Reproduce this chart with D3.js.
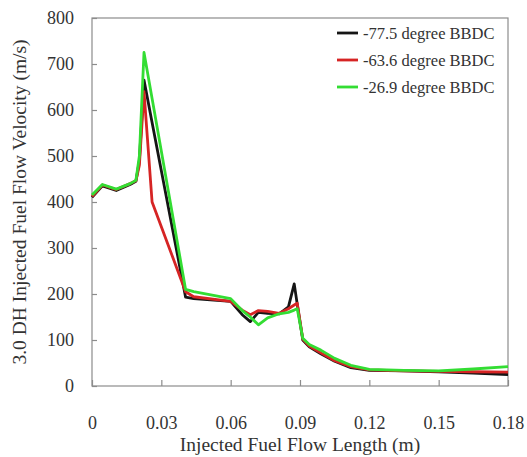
<!DOCTYPE html>
<html>
<head>
<meta charset="utf-8">
<script src="https://cdn.jsdelivr.net/npm/d3@7"></script>
<style>
  html, body { margin: 0; padding: 0; background: #fff; }
  svg { display: block; }
  svg text { font-family: "Liberation Serif", "DejaVu Serif", "Noto Serif", Times, serif !important; fill: #333; }
</style>
</head>
<body>
<svg id="chart" width="527" height="457"></svg>
<script>
// Injected fuel flow length (m), shared by all three crank-angle series
const lengthM = [0, 0.0045, 0.0105, 0.0165, 0.019, 0.0205, 0.0225, 0.026, 0.0405, 0.044,
  0.06, 0.065, 0.0685, 0.072, 0.076, 0.081, 0.085, 0.0875, 0.0888, 0.0912,
  0.094, 0.099, 0.105, 0.112, 0.12, 0.135, 0.15, 0.165, 0.18];

// Velocity (m/s) for each injection timing
const deg775 = [410, 435, 425, 438, 445, 490, 665, 573, 193, 190,
  184, 155, 140, 160, 158, 157, 172, 222, 178, 100,
  85, 70, 54, 40, 34, 33, 31, 28, 25];
const deg636 = [412, 437, 427, 440, 446, 480, 640, 400, 205, 194,
  184, 165, 155, 164, 162, 158, 168, 176, 180, 102,
  87, 72, 55, 42, 35, 33, 32, 31, 30];
const deg269 = [415, 438, 428, 440, 447, 500, 725, 625, 210, 205,
  190, 164, 150, 133, 148, 157, 160, 165, 168, 104,
  90, 78, 60, 45, 36, 34, 33, 37, 42];

const seriesNames = ["-77.5 degree BBDC", "-63.6 degree BBDC", "-26.9 degree BBDC"];
const seriesColors = ["#151515", "#d62424", "#33dd33"];
const xTicks = [0, 0.03, 0.06, 0.09, 0.12, 0.15, 0.18];
const xTickLabels = ["0", "0.03", "0.06", "0.09", "0.12", "0.15", "0.18"];
const yTicks = [0, 100, 200, 300, 400, 500, 600, 700, 800];

const FONT = '"Liberation Serif", "DejaVu Serif", "Noto Serif", Times, serif';
const margin = { left: 92, right: 19, top: 18, bottom: 71 };
const W = 527, H = 457;
const svg = d3.select("#chart");

const x = d3.scaleLinear().domain([0, 0.18]).range([margin.left, W - margin.right]);
const y = d3.scaleLinear().domain([0, 800]).range([H - margin.bottom, margin.top]);

// plot frame
svg.append("rect")
  .attr("x", x(0)).attr("y", y(800))
  .attr("width", x(0.18) - x(0)).attr("height", y(0) - y(800))
  .attr("fill", "none").attr("stroke", "#8c8c8c").attr("stroke-width", 1.2);

// axes with inward ticks
const xAxis = svg.append("g").attr("transform", `translate(0,${y(0)})`)
  .call(d3.axisBottom(x).tickValues(xTicks).tickSize(-6).tickPadding(30)
    .tickFormat((d, i) => xTickLabels[i]));
const yAxis = svg.append("g").attr("transform", `translate(${x(0)},0)`)
  .call(d3.axisLeft(y).tickValues(yTicks).tickSize(-5).tickPadding(18));
[xAxis, yAxis].forEach(g => {
  g.attr("font-family", FONT);
  g.select(".domain").remove();
  g.selectAll(".tick line").attr("stroke", "#8c8c8c").attr("stroke-width", 1.2);
  g.selectAll(".tick text").attr("font-size", 18).attr("fill", "#333")
    .style("font-family", FONT);
});

// series lines
const rows = [deg775, deg636, deg269];
const line = d3.line()
  .x((d, i) => x(lengthM[i]))
  .y(d => y(d));
rows.forEach((vals, k) => {
  svg.append("path")
    .datum(vals)
    .attr("fill", "none")
    .attr("stroke", seriesColors[k])
    .attr("stroke-width", 2.8)
    .attr("stroke-linejoin", "round")
    .attr("d", line);
});

// legend
const legend = svg.append("g");
legend.append("rect").attr("x", 330).attr("y", 22).attr("width", 172).attr("height", 78).attr("fill", "#fff");
seriesNames.forEach((name, k) => {
  const yy = 33 + k * 27;
  legend.append("line").attr("x1", 337).attr("x2", 358).attr("y1", yy).attr("y2", yy)
    .attr("stroke", seriesColors[k]).attr("stroke-width", 2.8);
  legend.append("text").attr("x", 363).attr("y", yy).attr("dy", "0.35em")
    .attr("font-size", 16.5).style("font-family", FONT).text(name);
});

// axis titles
svg.append("text")
  .attr("x", (x(0) + x(0.18)) / 2).attr("y", 451)
  .attr("text-anchor", "middle").attr("font-size", 19.5).style("font-family", FONT)
  .text("Injected Fuel Flow Length (m)");
svg.append("text")
  .attr("transform", `translate(26,${(y(0) + y(800)) / 2}) rotate(-90)`)
  .attr("text-anchor", "middle").attr("font-size", 19.5).style("font-family", FONT)
  .text("3.0 DH Injected Fuel Flow Velocity (m/s)");
</script>
</body>
</html>
